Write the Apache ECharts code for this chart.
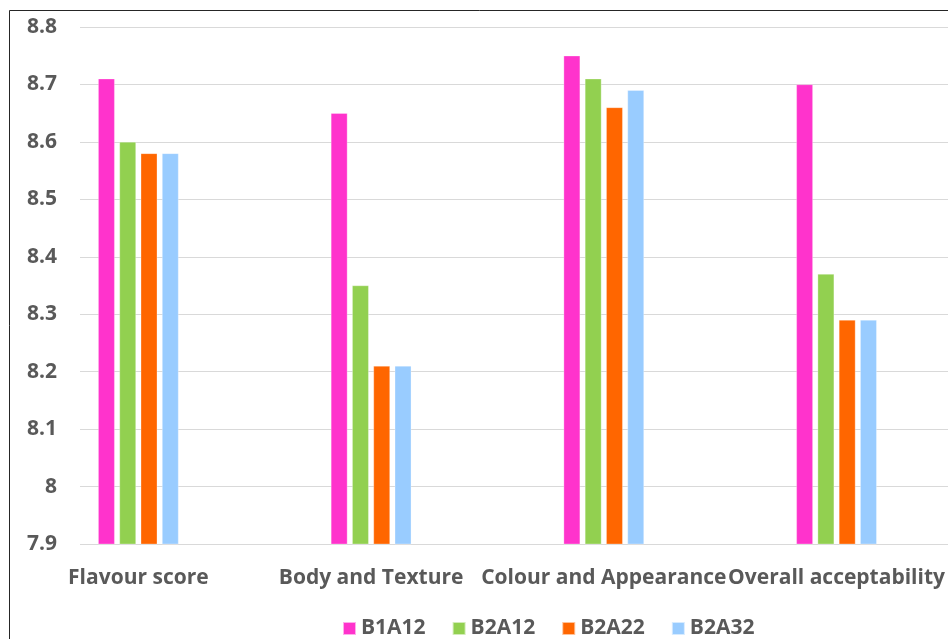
<!DOCTYPE html>
<html>
<head>
<meta charset="utf-8">
<script src="https://cdn.jsdelivr.net/npm/echarts@6/dist/echarts.min.js"></script>
<style>
  html, body { margin: 0; padding: 0; background: #fff; }
  #chart { width: 948px; height: 639px; }
</style>
</head>
<body>
<div id="chart"></div>
<script>
// Sensory attributes and scores per sample
const categories = ['Flavour score', 'Body and Texture', 'Colour and Appearance', 'Overall acceptability'];
const seriesNames = ['B1A12', 'B2A12', 'B2A22', 'B2A32'];
const b1a12 = [8.71, 8.65, 8.75, 8.70];
const b2a12 = [8.60, 8.35, 8.71, 8.37];
const b2a22 = [8.58, 8.21, 8.66, 8.29];
const b2a32 = [8.58, 8.21, 8.69, 8.29];
const colors = ['#FF33CC', '#92D050', '#FF6600', '#99CCFF'];
const yMin = 7.9, yMax = 8.8, yStep = 0.1;

const textColor = '#595959';
const font = 'Open Sans';

const chart = echarts.init(document.getElementById('chart'));
const values = [b1a12, b2a12, b2a22, b2a32];

// Category slots are placed on a numeric axis (slot i centred on value i) so the
// last slot may run past the right edge of the canvas.
const slotMin = -0.5, slotMax = 3.46;

chart.setOption({
  animation: false,
  backgroundColor: '#fff',
  graphic: [{
    type: 'rect',
    shape: { x: 9.5, y: 10.5, width: 1000, height: 700 },
    style: { fill: 'none', stroke: '#262626', lineWidth: 1 },
    silent: true,
    z: 100
  }],
  legend: {
    data: seriesNames,
    left: 342,
    top: 618,
    padding: 0,
    itemWidth: 13,
    itemHeight: 13,
    itemGap: 26,
    icon: 'rect',
    textStyle: { color: textColor, fontFamily: font, fontWeight: 'bold', fontSize: 21, padding: [0, 0, 0, 0] }
  },
  grid: [
    { left: 80, right: 0, top: 27, bottom: 95 },
    { left: 22, right: 0, top: 27, bottom: 95 }
  ],
  xAxis: [
    { type: 'value', gridIndex: 0, show: false, min: 0, max: 1 },
    {
      type: 'value', gridIndex: 1, min: slotMin, max: slotMax, interval: 0.5,
      axisLine: { show: false }, axisTick: { show: false }, splitLine: { show: false },
      axisLabel: {
        color: textColor, fontFamily: font, fontWeight: 'bold', fontSize: 21, margin: 24,
        hideOverlap: false, showMinLabel: true, showMaxLabel: true,
        formatter: v => (Number.isInteger(v) && categories[v] !== undefined) ? categories[v] : ''
      }
    }
  ],
  yAxis: [
    {
      type: 'value', gridIndex: 0, min: yMin, max: yMax, interval: yStep,
      axisLine: { show: false }, axisTick: { show: false },
      splitLine: { lineStyle: { color: '#D9D9D9', width: 1 } },
      axisLabel: {
        color: textColor, fontFamily: font, fontWeight: 'bold', fontSize: 21, margin: 23,
        formatter: v => String(Math.round(v * 10) / 10)
      }
    },
    { type: 'value', gridIndex: 1, min: yMin, max: yMax, show: false, splitLine: { show: false } }
  ],
  series: seriesNames.map((name, i) => ({
    name,
    type: 'bar',
    xAxisIndex: 1,
    yAxisIndex: 1,
    data: values[i].map((v, k) => [k, v]),
    barWidth: 16.5,
    barGap: '29%',
    itemStyle: { color: colors[i], borderColor: 'rgba(255,255,255,0.6)', borderWidth: 0.5 }
  }))
});
</script>
</body>
</html>
